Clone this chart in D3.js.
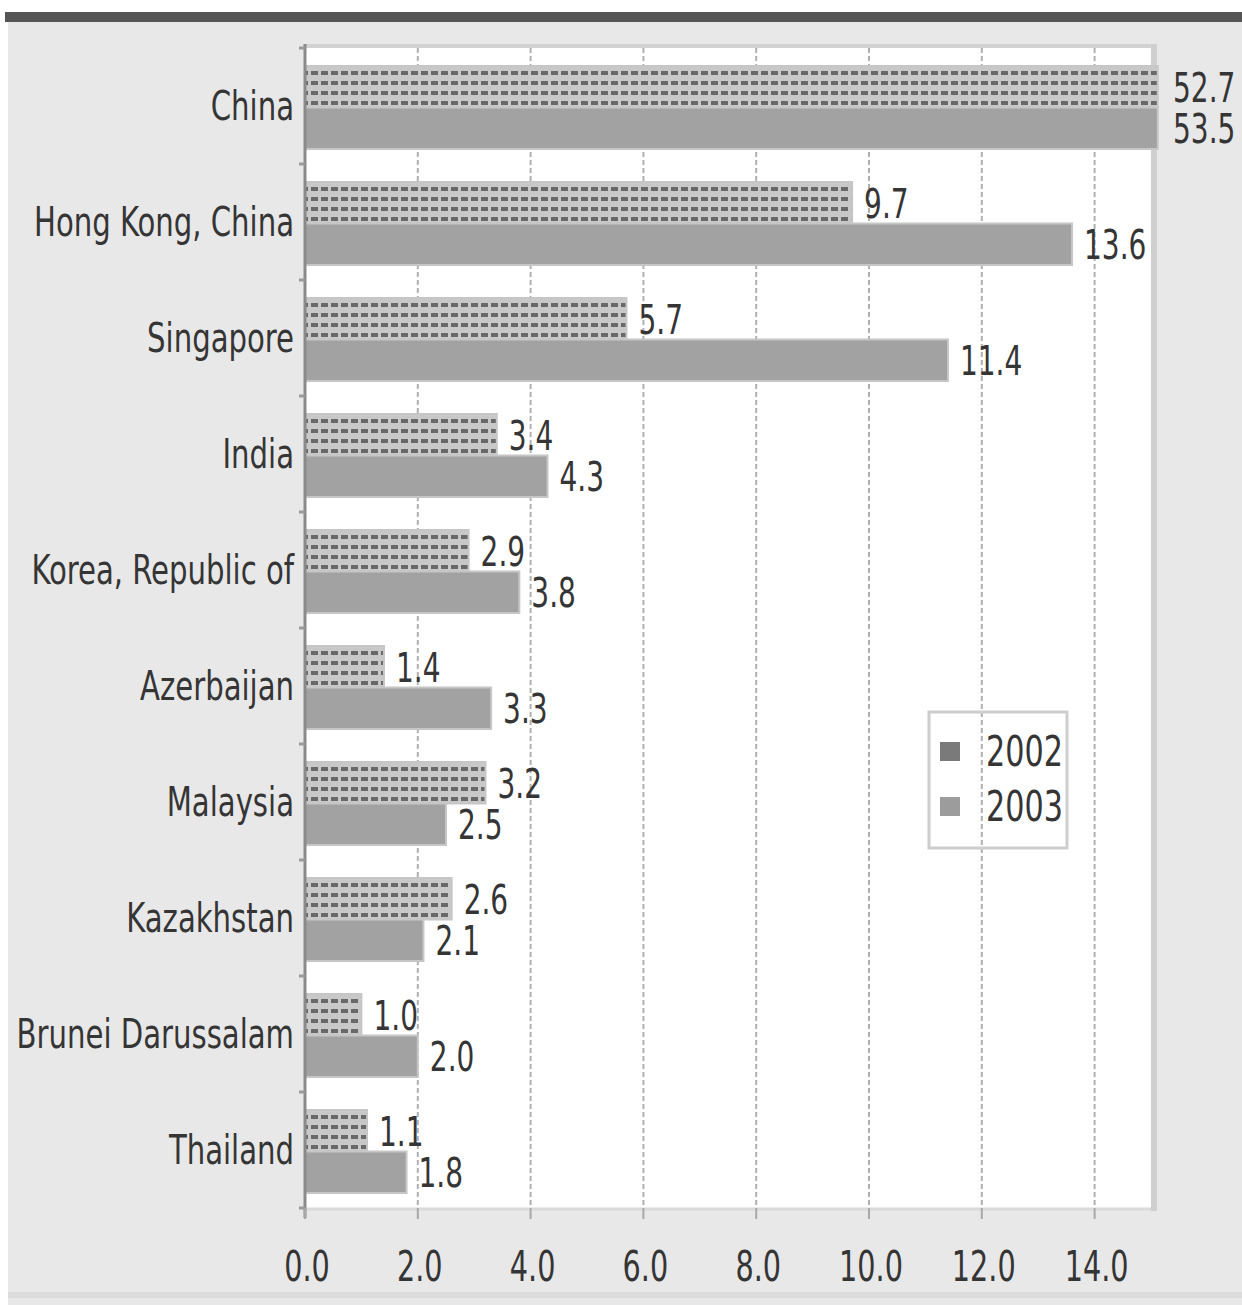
<!DOCTYPE html>
<html>
<head>
<meta charset="utf-8">
<script src="https://cdn.jsdelivr.net/npm/d3@7"></script>
<style>
  html, body { margin: 0; padding: 0; background: #ffffff; }
  svg { display: block; }
</style>
</head>
<body>
<svg id="chart" width="1242" height="1305"></svg>
<script>
// Categories and values (share figures, per cent)
const countries = [
  "China", "Hong Kong, China", "Singapore", "India", "Korea, Republic of",
  "Azerbaijan", "Malaysia", "Kazakhstan", "Brunei Darussalam", "Thailand"
];
const years = ["2002", "2003"];
const values2002 = [52.7, 9.7, 5.7, 3.4, 2.9, 1.4, 3.2, 2.6, 1.0, 1.1];
const values2003 = [53.5, 13.6, 11.4, 4.3, 3.8, 3.3, 2.5, 2.1, 2.0, 1.8];
const xTicks = [0, 2, 4, 6, 8, 10, 12, 14];
const xMax = 15;        // axis end
const barCeil = 15.12;  // long bars are cut just past the axis end

const rows = countries.map((c, i) => ({
  country: c,
  series: [
    { year: years[0], value: values2002[i] },
    { year: years[1], value: values2003[i] }
  ]
}));

const W = 1242, H = 1305;
const plot = { left: 305, top: 48, bottom: 1208 };
const FONT = "'Liberation Sans Narrow', 'Arial Narrow', 'DejaVu Sans Condensed', 'Liberation Sans', sans-serif";
const TEXT = "#353535";
const NUM_SX = 0.76;   // horizontal squeeze for numeric text
const CAT_SX = 0.79;   // horizontal squeeze for category names

const svg = d3.select("#chart");

// patterned fill for the 2002 series
const defs = svg.append("defs");
const pat = defs.append("pattern")
  .attr("id", "dash2002")
  .attr("patternUnits", "userSpaceOnUse")
  .attr("width", 10).attr("height", 10);
pat.append("rect").attr("width", 10).attr("height", 10).attr("fill", "#c8c8c8");
pat.append("rect").attr("x", 1).attr("y", 3).attr("width", 7).attr("height", 4).attr("fill", "#686868");

const fills = { "2002": "url(#dash2002)", "2003": "#a2a2a2" };

// scales
const x = d3.scaleLinear().domain([0, xMax]).range([plot.left, plot.left + 846]);
const xBar = d3.scaleLinear().domain([0, barCeil]).range([x(0), x(barCeil)]).clamp(true);
const y = d3.scaleBand().domain(countries).range([plot.top, plot.bottom]).padding(0);
const ySeries = d3.scaleBand().domain(years).range([18, y.bandwidth() - 15]).padding(0);

const plotRight = x(xMax);

// page frame
svg.append("rect").attr("width", W).attr("height", H).attr("fill", "#ffffff");
svg.append("rect").attr("x", 8).attr("y", 22).attr("width", W - 8).attr("height", H - 22).attr("fill", "#e8e8e8");
svg.append("rect").attr("x", 5).attr("y", 12).attr("width", W - 5).attr("height", 10).attr("fill", "#555555");
svg.append("rect").attr("x", 8).attr("y", 1292).attr("width", W - 8).attr("height", 6).attr("fill", "#dcdcdc");

// plot area
svg.append("rect")
  .attr("x", plot.left).attr("y", plot.top)
  .attr("width", plotRight - plot.left).attr("height", plot.bottom - plot.top)
  .attr("fill", "#ffffff");
svg.append("line")
  .attr("x1", plot.left).attr("x2", plotRight + 6)
  .attr("y1", plot.top - 2).attr("y2", plot.top - 2)
  .attr("stroke", "#d2d2d2").attr("stroke-width", 4);
svg.append("line")
  .attr("x1", plot.left).attr("x2", plotRight + 6)
  .attr("y1", plot.bottom + 1).attr("y2", plot.bottom + 1)
  .attr("stroke", "#dadada").attr("stroke-width", 3);
svg.append("line")
  .attr("x1", plotRight + 3).attr("x2", plotRight + 3)
  .attr("y1", plot.top - 4).attr("y2", plot.bottom + 3)
  .attr("stroke", "#cfcfcf").attr("stroke-width", 6);

// vertical gridlines
svg.append("g").selectAll("line")
  .data(xTicks.filter(d => d > 0))
  .join("line")
  .attr("x1", d => x(d)).attr("x2", d => x(d))
  .attr("y1", plot.top).attr("y2", plot.bottom)
  .attr("stroke", "#b0b0b0").attr("stroke-width", 2)
  .attr("stroke-dasharray", "5,3");

// legend box (gridlines show through it)
const legend = svg.append("g").attr("transform", "translate(929,712)");
legend.append("rect")
  .attr("width", 138).attr("height", 136)
  .attr("fill", "none").attr("stroke", "#cdcdcd").attr("stroke-width", 3);
years.forEach((yr, i) => {
  const ly = 40 + i * 55;
  legend.append("rect")
    .attr("x", 11).attr("y", ly - 10).attr("width", 20).attr("height", 19)
    .attr("fill", yr === "2002" ? "#7a7a7a" : "#9c9c9c");
  legend.append("g")
    .attr("transform", `translate(57,${ly + 14}) scale(${NUM_SX + 0.04},1)`)
    .append("text")
    .attr("font-family", FONT).attr("font-size", 42).attr("fill", TEXT)
    .text(yr);
});

// bars
const groups = svg.append("g").selectAll("g")
  .data(rows)
  .join("g")
  .attr("transform", d => `translate(0,${y(d.country)})`);

groups.selectAll("rect")
  .data(d => d.series)
  .join("rect")
  .attr("x", x(0))
  .attr("y", d => ySeries(d.year))
  .attr("width", d => xBar(d.value) - x(0))
  .attr("height", ySeries.bandwidth())
  .attr("fill", d => fills[d.year])
  .attr("stroke", "#c6c6c6").attr("stroke-width", 2);

// value labels
groups.selectAll("g.val")
  .data(d => d.series)
  .join("g")
  .attr("class", "val")
  .attr("transform", d => {
    const lx = d.value > xMax ? plotRight + 22 : x(d.value) + 12;
    const ly = ySeries(d.year) + ySeries.bandwidth() / 2 + 15;
    return `translate(${lx},${ly}) scale(${NUM_SX},1)`;
  })
  .append("text")
  .attr("font-family", FONT).attr("font-size", 41).attr("fill", TEXT)
  .text(d => d3.format(".1f")(d.value));

// left axis line and band ticks
svg.append("line")
  .attr("x1", plot.left).attr("x2", plot.left)
  .attr("y1", plot.top - 4).attr("y2", plot.bottom + 10)
  .attr("stroke", "#8a8a8a").attr("stroke-width", 3);
svg.append("g").selectAll("line")
  .data(countries.map(c => y(c)).concat([plot.bottom]))
  .join("line")
  .attr("x1", plot.left - 6).attr("x2", plot.left)
  .attr("y1", d => d).attr("y2", d => d)
  .attr("stroke", "#9a9a9a").attr("stroke-width", 3);

// bottom ticks
svg.append("g").selectAll("line")
  .data(xTicks)
  .join("line")
  .attr("x1", d => x(d)).attr("x2", d => x(d))
  .attr("y1", plot.bottom).attr("y2", plot.bottom + 11)
  .attr("stroke", "#a8a8a8").attr("stroke-width", 2);

// tick labels
svg.append("g").selectAll("g")
  .data(xTicks)
  .join("g")
  .attr("transform", d => `translate(${x(d) + 2},1281) scale(${NUM_SX},1)`)
  .append("text")
  .attr("text-anchor", "middle")
  .attr("font-family", FONT).attr("font-size", 42).attr("fill", TEXT)
  .text(d => d3.format(".1f")(d));

// category labels
svg.append("g").selectAll("g")
  .data(countries)
  .join("g")
  .attr("transform", d => `translate(294,${y(d) + y.bandwidth() / 2 + 14}) scale(${CAT_SX},1)`)
  .append("text")
  .attr("text-anchor", "end")
  .attr("font-family", FONT).attr("font-size", 41).attr("fill", TEXT)
  .text(d => d);
</script>
</body>
</html>
